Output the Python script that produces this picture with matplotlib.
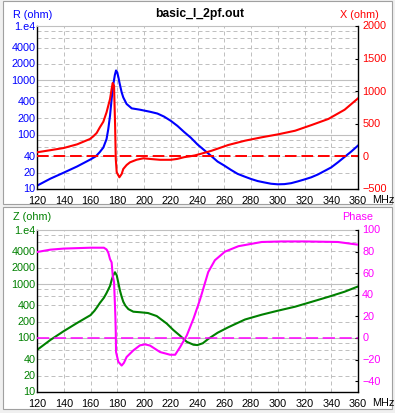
import numpy as np
import matplotlib
matplotlib.use("Agg")
import matplotlib.pyplot as plt
import matplotlib.transforms as mtransforms
from matplotlib.patches import Rectangle

plt.rcParams['font.family'] = ['Liberation Sans', 'DejaVu Sans']
plt.rcParams['font.size'] = 7.8

title = "basic_l_2pf.out"

# R (ohm), blue, log axis
r_freq = [120, 130, 140, 150, 160, 164, 167, 169.6, 172, 173.3, 174.6, 175.8, 177.1, 178.2, 179.1,
          180, 181, 181.6, 183.3, 184.5, 187, 190.8, 197, 204.5, 210, 215, 220, 225, 230, 235, 240,
          245, 250, 255, 260, 265, 270, 275, 280, 285, 290, 295, 300, 305, 310, 315, 320, 325, 330,
          335, 340, 345, 350, 355, 360]
r_vals = [11.5, 15.5, 20, 26, 35, 40, 48, 58, 83, 127, 224, 454, 857, 1250, 1520,
          1400, 1100, 920, 600, 485, 367, 305, 288, 264, 245, 215, 180, 145, 112, 88, 66,
          52, 41, 32, 27, 22.5, 19, 17, 15.3, 14, 13.2, 12.5, 12.2, 12.3, 12.8, 13.8, 15, 16.4, 18.5,
          21.5, 25, 31, 39, 49, 63]

# X (ohm), red, linear axis
x_freq = [120, 130, 140, 150, 159.6, 162.1, 164.6, 167, 169.6, 172, 173.3, 174.6, 175.8, 176.6,
          177.6, 178.4, 178.9, 179.6, 181.6, 183.3, 184.5, 187, 189.5, 194.5, 199.5, 205, 212,
          220, 225, 230, 234, 238, 242, 250.6, 263, 275.5, 288, 300.4, 313, 325.4, 337.8, 350, 360]
x_vals = [63, 95, 129, 185, 267, 308, 359, 446, 532, 676, 778, 880, 1034, 1126,
          1084, 471, -40, -244, -320, -270, -193, -132, -91, -51, -29, -40, -52,
          -52, -38, -12, 0, 15, 37, 87, 175, 241, 293, 339, 394, 482, 574, 716, 890]

# Z (ohm), green, log axis
z_freq = [120, 130, 140, 150, 160, 163, 165, 167, 170, 172, 174.6, 175.8, 177, 178.3, 179.6, 181, 182,
          183.3, 184.5, 186, 188.3, 192, 197, 203, 209.5, 217, 222, 227, 232, 237, 240, 244, 248,
          255, 263, 275.5, 288, 300, 313, 325, 338, 350, 360]
z_vals = [60, 92, 134, 190, 265, 320, 375, 445, 555, 680, 920, 1180, 1450, 1650, 1450, 1000, 760,
          580, 470, 400, 343, 307, 300, 290, 255, 185, 140, 110, 85, 75, 74, 80, 96,
          125, 158, 220, 270, 320, 380, 465, 580, 720, 900]

# Phase (deg), magenta, linear axis
p_freq = [120, 130, 140, 150, 160, 170, 172, 173.3, 174.6, 175.8, 176.6, 177.6, 178.3, 178.6,
          178.9, 179.1, 180.8, 183.3, 185, 187, 192, 197, 200.8, 204.5, 212, 219.5, 223.3, 227,
          232, 237, 242, 248, 253, 260.6, 270.6, 288, 303, 320, 345, 360]
p_vals = [79.6, 81.8, 82.8, 83.2, 83.6, 83.6, 82, 79, 73, 70, 58, 52, 30, 20,
          5, -13, -22, -25.5, -23, -17.6, -11.5, -6.8, -5.9, -7, -13, -15.5, -15.5, -8.4,
          2.4, 17.9, 36, 61, 72, 80, 85, 88.9, 89.4, 89.4, 88.9, 86.4]

xticks = list(range(120, 361, 20))
log_ticks = [10, 20, 40, 100, 200, 400, 1000, 2000, 4000, 10000]
log_labels = ["10", "20", "40", "100", "200", "400", "1000", "2000", "4000", "1.e4"]
x_ohm_ticks = [-500, 0, 500, 1000, 1500, 2000]
phase_ticks = [-40, -20, 0, 20, 40, 60, 80, 100]

W, H = 395, 414
fig = plt.figure(figsize=(W / 100, H / 100), dpi=100, facecolor='#f0f0f0')

# white panels
for (x0, y0, x1, y1) in [(3, 2, 392, 205), (3, 208, 392, 410)]:
    fig.patches.append(Rectangle((x0 / W, 1 - y1 / H), (x1 - x0) / W, (y1 - y0) / H,
                                 transform=fig.transFigure, facecolor='white',
                                 edgecolor='#a0a0a0', lw=0.8, zorder=-10))

grid_c = '#c0c0c0'
lift = mtransforms.ScaledTranslation(0, 1.5 / 100, fig.dpi_scale_trans)


def make_panel(top, bottom, lcol, rcol, rticks, rlim):
    ax = fig.add_axes([37 / W, 1 - bottom / H, 321 / W, (bottom - top) / H])
    ax.set_facecolor('white')
    ax.set_xlim(120, 360)
    ax.set_yscale('log')
    ax.set_ylim(10, 10000)
    # grid
    for d in [10, 100, 1000]:
        for m in [2, 4, 6, 8]:
            ax.axhline(d * m, color=grid_c, lw=0.72, ls=(0, (4, 3)), zorder=0.5)
    for d in [100, 1000]:
        ax.axhline(d, color=grid_c, lw=0.8, zorder=0.5)
    for f in xticks[1:-1]:
        ax.axvline(f, color=grid_c, lw=0.72, ls=(0, (4, 3)), zorder=0.5)
    ax.set_yticks(log_ticks)
    ax.set_yticklabels(log_labels)
    ax.yaxis.set_minor_locator(matplotlib.ticker.NullLocator())
    ax.tick_params(axis='y', length=0, pad=1.2, colors=lcol)
    ax.set_xticks(xticks)
    ax.tick_params(axis='x', length=0, pad=4, colors='black')
    for s in ['left', 'bottom']:
        ax.spines[s].set_color('black')
        ax.spines[s].set_linewidth(1.0)
    ax.spines['top'].set_color(grid_c)
    ax.spines['top'].set_linewidth(0.8)
    ax.spines['right'].set_visible(False)

    ax2 = ax.twinx()
    ax2.set_ylim(*rlim)
    ax2.set_yticks(rticks)
    ax2.tick_params(axis='y', direction='in', length=2, width=0.8, pad=3,
                    colors='black', labelcolor=rcol)
    for s in ['left', 'top', 'bottom']:
        ax2.spines[s].set_visible(False)
    ax2.spines['right'].set_color('black')
    ax2.spines['right'].set_linewidth(1.0)
    for lab in ax.get_yticklabels() + ax2.get_yticklabels():
        lab.set_transform(lab.get_transform() + lift)
    return ax, ax2


ax1, ax1b = make_panel(27, 190, 'blue', 'red', x_ohm_ticks, (-500, 2000))
ax1.plot(r_freq, r_vals, color='#0000ff', lw=1.5, zorder=2)
ax1b.axhline(0, color='#ff0000', lw=1.4, ls=(0, (6, 2.5)), zorder=2)
ax1b.plot(x_freq, x_vals, color='#ff0000', lw=1.5, zorder=3)

ax2, ax2b = make_panel(231, 393, 'green', '#ff00ff', phase_ticks, (-50, 100))
ax2.plot(z_freq, z_vals, color='#008000', lw=1.5, zorder=2)
ax2b.axhline(0, color='#ff00ff', lw=1.1, ls=(0, (8, 3)), zorder=2)
ax2b.plot(p_freq, p_vals, color='#ff00ff', lw=1.5, zorder=3)

# panel texts
fig.text(200 / W, 1 - 14 / H, title, ha='center', va='center', fontsize=8.7,
         fontweight='bold', color='black')
fig.text(13 / W, 1 - 15 / H, "R (ohm)", ha='left', va='center', color='blue')
fig.text(379 / W, 1 - 15 / H, "X (ohm)", ha='right', va='center', color='red')
fig.text(13 / W, 1 - 217 / H, "Z (ohm)", ha='left', va='center', color='green')
fig.text(373 / W, 1 - 217 / H, "Phase", ha='right', va='center', color='#ff00ff')
fig.text(372 / W, 1 - 200 / H, "MHz", ha='left', va='center', color='black')
fig.text(372 / W, 1 - 403 / H, "MHz", ha='left', va='center', color='black')

fig.savefig('out.png', dpi=100, facecolor=fig.get_facecolor())
